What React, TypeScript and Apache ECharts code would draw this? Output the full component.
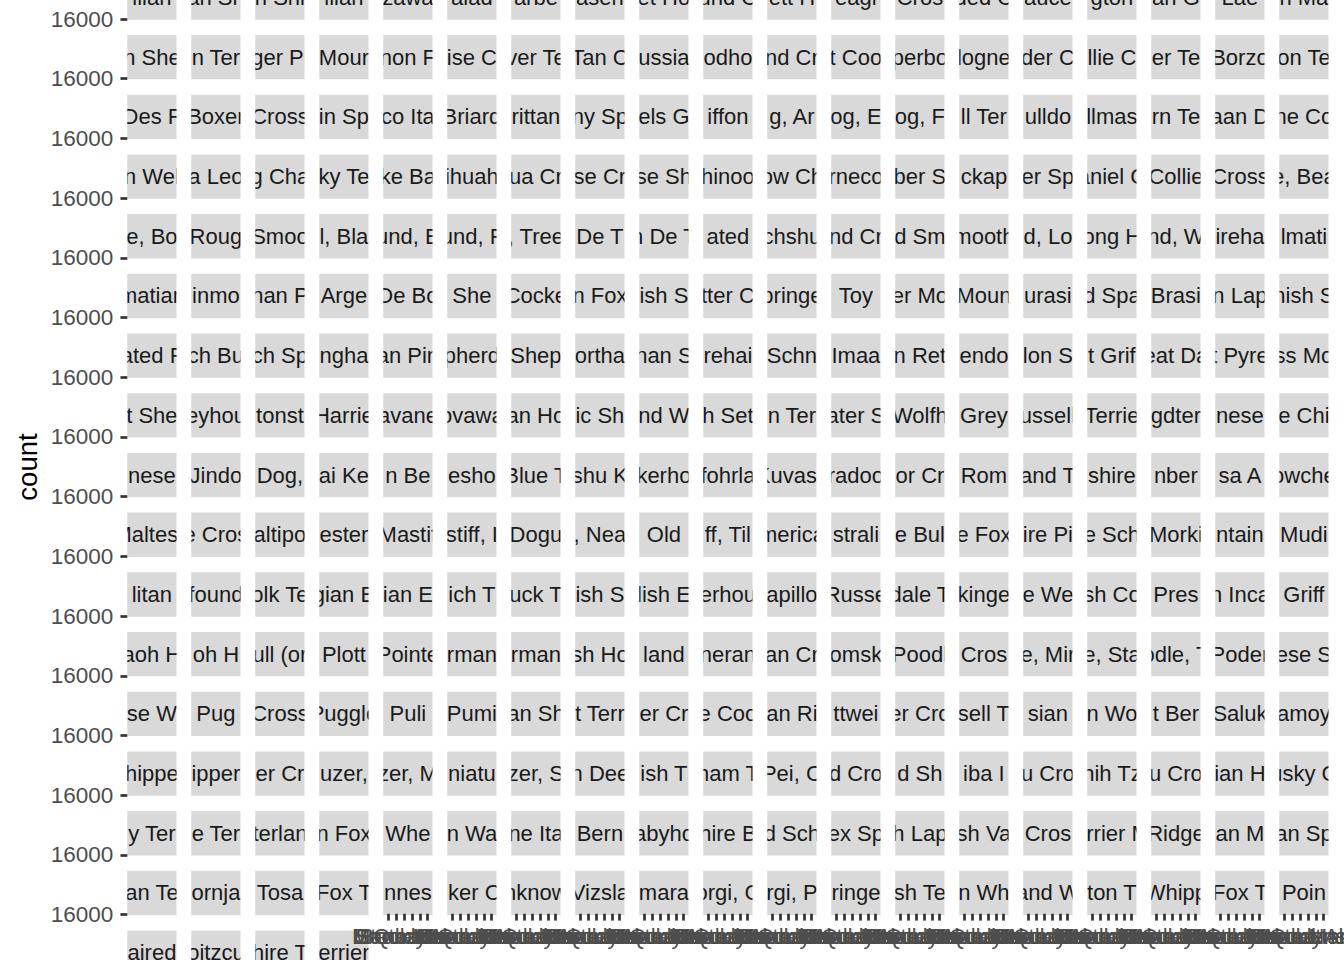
import React, { useEffect, useRef } from "react";
import * as echarts from "echarts";

// Facet strip labels (breed names as visible in each strip), in facet order, 19 per row
const breeds: string[] = [
  "ilian", "an Sh", "n Shi", "ilian", "zawa", "alad", "arbe", "asen", "et Ho", "und C", "ett H", "eagl", "Cros", "ded C", "auce", "gton", "an G", "Lae", "n Ma",
  "n She", "n Ter", "ger Pi", "Mour", "non F", "ise C", "ver Te", "Tan C", "ussia", "odho", "nd Cr", "t Coo", "perbo", "logne", "der C", "llie C", "er Te", "Borzo", "on Te",
  "Des F", "Boxer", "Cross", "in Sp", "co Ita", "Briard", "rittan", "ny Sp", "els G", "iffon", "g, Ar", "og, E", "og, F", "ll Ter", "ulldo", "llmas", "rn Te", "aan D", "ne Co",
  "n Wel", "a Leo", "g Cha", "ky Te", "ke Ba", "ihuah", "ua Cr", "se Cr", "se Sh", "hinoo", "ow Ch", "rneco", "ber S", "ckap", "er Sp", "aniel C", "Collie", "Cross", "e, Bea",
  "e, Bo", "Roug", "Smoo", "l, Bla", "und, E", "und, F", ", Tree", "De T", "n De T", "ated", "chshu", "nd Cr", "d Sm", "mooth", "d, Lo", "ong H", "nd, W", "ireha", "lmati",
  "matian", "inmo", "nan P", "Arge", "De Bo", "She", "Cocke", "n Fox", "ish S", "tter C", "pringe", "Toy", "er Mo", "Moun", "urasi", "d Spa", "Brasi", "n Lap", "nish S",
  "ated F", "ch Bu", "ch Sp", "ngha", "an Pin", "pherd", "Shep", "ortha", "nan S", "rehai", "Schn", "Imaa", "n Ret", "endo", "lon S", "t Grif", "eat Da", "t Pyre", "ss Mo",
  "t She", "eyhou", "tonst", "Harrie", "avane", "ovawa", "an Ho", "ic Sh", "nd W", "h Set", "n Ter", "ater S", "Wolfh", "Grey", "ussell", "Terrie", "gdter", "nese", "e Chi",
  "nese", "Jindo", "Dog,", "ai Ke", "n Be", "esho", "Blue T", "shu K", "kerho", "fohrla", "Kuvasz", "radoo", "or Cr", "Rom", "and T", "shire", "nber", "sa A", "owche",
  "Maltese", "e Cros", "altipo", "ester", "Mastif", "stiff, I", "Dogu", ", Nea", "Old", "ff, Til", "merica", "strali", "e Bul", "e Fox", "ire Pi", "e Sch", "Morki", "ntain", "Mudi",
  "litan", "found", "olk Te", "gian E", "ian E", "ich T", "uck T", "ish S", "lish E", "erhou", "apillo", "Russe", "dale T", "kinge", "e We", "sh Co", "Pres", "n Inca", "Griff",
  "aoh H", "oh H", "ull (or", "Plott", "Pointe", "rman", "rman", "sh Ho", "land", "neran", "an Cr", "omsk", "Poodl", "Cros", "e, Mir", "e, Sta", "odle, T", "Poder", "ese S",
  "se W", "Pug", "Cross", "Puggle", "Puli", "Pumi", "an Sh", "t Terr", "er Cr", "e Coo", "an Ri", "ttwei", "er Cro", "sell T", "sian", "n Wo", "t Ber", "Saluk", "amoy",
  "hippe", "ipper", "er Cr", "uzer,", "zer, M", "niatu", "zer, S", "n Dee", "ish T", "ham T", "Pei, C", "d Cro", "d Sh", "iba I", "u Cro", "hih Tz", "u Cro", "ian H", "usky C",
  "y Ter", "e Ter", "terlan", "n Fox", "Whe", "n Wa", "ne Ita", "Bern", "abyho", "hire B", "d Sch", "ex Sp", "h Lap", "sh Va", "Cros", "errier M", "Ridge", "an M", "an Sp",
  "an Te", "ornja", "Tosa", "Fox T", "nnes", "lker C", "nknow", "Vizsla", "mara", "orgi, C", "rgi, P", "ringe", "sh Te", "n Wh", "and W", "ton T", "Whipp", "Fox T", "Poin",
  "aired", "oitzcu", "hire T", "errier",
];

// x categories of every panel
const boroughs: string[] = ["Bronx", "Brooklyn", "Manhattan", "Queens", "Staten Island", "NA"];

// y scale of every panel
const countMin = 15000;
const countMax = 16000;
const countStep = 1000;

const N_COLS = 19;
const COL0_LEFT = 127.3;
const COL_PITCH = 64;
const STRIP_W = 49.2;
const ROW0_TOP = -24.7;
const ROW_PITCH = 59.7;
const STRIP_H = 44.35;
const CANVAS_W = 1344;
const CANVAS_H = 960;
const FONT = '"Liberation Sans", Arial, Helvetica, sans-serif';

export default function App() {
  const ref = useRef<HTMLDivElement>(null);

  useEffect(() => {
    document.body.style.margin = "0";
    if (!ref.current) return;
    const chart = echarts.init(ref.current, undefined, { renderer: "svg" });

    const nBreeds = breeds.length;
    const nRows = Math.ceil(nBreeds / N_COLS);
    const lastRow = nRows - 1;

    const grids: any[] = [];
    const xAxes: any[] = [];
    const yAxes: any[] = [];

    // layout grid for the facet strips, kept inside the canvas;
    // the row axis range is chosen so that row r starts at ROW0_TOP + r * ROW_PITCH
    const rowMin = -ROW0_TOP / ROW_PITCH;
    const rowMax = rowMin + CANVAS_H / ROW_PITCH;
    grids.push({
      left: COL0_LEFT,
      top: 0,
      width: N_COLS * COL_PITCH,
      height: CANVAS_H,
      containLabel: false,
      outerBoundsMode: "none",
    });
    xAxes.push({ type: "value", gridIndex: 0, min: 0, max: N_COLS, show: false });
    yAxes.push({ type: "value", gridIndex: 0, min: rowMin, max: rowMax, inverse: true, show: false });

    const panelBottom = (r: number) => ROW0_TOP + r * ROW_PITCH + STRIP_H - 0.2;

    // y axes on the first column (panels collapsed to almost no height)
    for (let r = 0; r < nRows; r++) {
      if (panelBottom(r) > CANVAS_H) continue;
      const gi = grids.length;
      grids.push({
        left: COL0_LEFT,
        top: panelBottom(r) - 0.4,
        width: STRIP_W,
        height: 0.4,
        containLabel: false,
        outerBoundsMode: "none",
      });
      xAxes.push({ type: "value", gridIndex: gi, min: 0, max: 1, show: false });
      yAxes.push({
        type: "value",
        gridIndex: gi,
        min: countMin,
        max: countMax,
        interval: countStep,
        z: 10,
        axisLine: { show: false },
        splitLine: { show: false },
        axisTick: { show: true, length: 6.85, lineStyle: { color: "#333333", width: 2.7 } },
        axisLabel: {
          color: "#4d4d4d",
          fontSize: 22.5,
          fontFamily: FONT,
          margin: 14,
          formatter: (v: number) => String(v),
        },
      });
    }

    // x axes under the bottom-most panel of each column
    const unit = STRIP_W / (boroughs.length + 0.2);
    for (let c = 0; c < N_COLS; c++) {
      const r = lastRow * N_COLS + c < nBreeds ? lastRow : lastRow - 1;
      const yb = panelBottom(r) - 1.2;
      if (yb > CANVAS_H) continue;
      const gi = grids.length;
      grids.push({
        left: COL0_LEFT + c * COL_PITCH + 0.1 * unit,
        top: yb - 0.3,
        width: unit * boroughs.length,
        height: 0.3,
        containLabel: false,
        outerBoundsMode: "none",
      });
      yAxes.push({ type: "value", gridIndex: gi, min: 0, max: 1, show: false });
      xAxes.push({
        type: "category",
        gridIndex: gi,
        data: boroughs,
        boundaryGap: true,
        z: 10,
        axisLine: { show: false },
        splitLine: { show: false },
        axisTick: { show: true, alignWithLabel: true, length: 6.85, lineStyle: { color: "#333333", width: 2.7 } },
        axisLabel: { interval: 0, hideOverlap: false, color: "#4d4d4d", fontSize: 22, fontFamily: FONT, margin: 11.5 },
      });
    }

    chart.setOption({
      animation: false,
      backgroundColor: "#ffffff",
      grid: grids,
      xAxis: xAxes,
      yAxis: yAxes,
      graphic: [
        {
          type: "text",
          x: 27,
          y: 467,
          rotation: Math.PI / 2,
          style: {
            text: "count",
            fill: "#000000",
            fontSize: 27.5,
            fontFamily: FONT,
            textAlign: "center",
            textVerticalAlign: "middle",
          },
        },
      ],
      series: [
        {
          type: "custom",
          coordinateSystem: "cartesian2d",
          xAxisIndex: 0,
          yAxisIndex: 0,
          z: 2,
          clip: false,
          data: breeds.map((_, i) => [i % N_COLS, Math.floor(i / N_COLS)]),
          encode: { x: 0, y: 1 },
          renderItem: (params: any, api: any) => {
            const c = api.value(0);
            const r = api.value(1);
            const p = api.coord([c, r]);
            const s = api.size([1, 1]);
            const w = (s[0] * STRIP_W) / COL_PITCH;
            const h = (s[1] * STRIP_H) / ROW_PITCH;
            return {
              type: "group",
              children: [
                { type: "rect", shape: { x: p[0], y: p[1], width: w, height: h }, style: { fill: "#d9d9d9" } },
                {
                  type: "text",
                  x: p[0] + w / 2,
                  y: p[1] + h / 2,
                  clipPath: { type: "rect", shape: { x: -w / 2, y: -h / 2, width: w, height: h } },
                  style: {
                    text: breeds[params.dataIndex],
                    fill: "#1a1a1a",
                    fontSize: 22,
                    fontFamily: FONT,
                    textAlign: "center",
                    textVerticalAlign: "middle",
                  },
                },
              ],
            };
          },
        },
      ],
    });

    return () => chart.dispose();
  }, []);

  return <div ref={ref} style={{ width: CANVAS_W, height: CANVAS_H }} />;
}
